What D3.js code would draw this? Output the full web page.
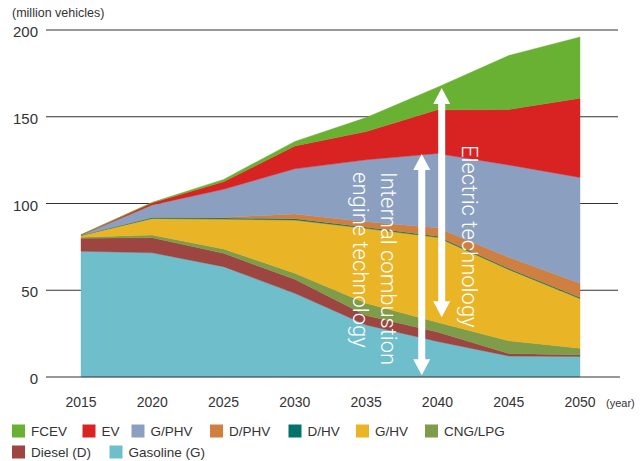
<!DOCTYPE html>
<html>
<head>
<meta charset="utf-8">
<script src="https://cdn.jsdelivr.net/npm/d3@7"></script>
<style>
  body { margin: 0; background: #fff; }
  svg { display: block; font-family: 'Liberation Sans', Arial, sans-serif; }
</style>
</head>
<body>
<div id="chart"></div>
<script>
// Vehicle stock by powertrain (million vehicles)
const years = [2015, 2020, 2025, 2030, 2035, 2040, 2045, 2050];
const gasoline = [72.5, 71.6, 63.6, 48.2, 30.0, 20.5, 12.1, 11.8];
const diesel   = [7.5, 8.7, 7.7, 8.1, 5.5, 5.5, 1.5, 0.9];
const cngLpg   = [0.6, 1.5, 2.5, 3.5, 7.0, 5.5, 7.3, 3.9];
const gHv      = [1.0, 9.6, 17.2, 30.7, 43.2, 49.0, 41.1, 28.6];
const dHv      = [0.1, 0.6, 0.6, 0.7, 0.6, 0.6, 0.6, 0.6];
const dPhv     = [0.0, 0.0, 0.4, 2.8, 3.2, 4.9, 6.4, 8.2];
const gPhv     = [0.1, 7.2, 16.2, 26.0, 35.7, 42.8, 53.2, 61.0];
const ev       = [0.1, 1.2, 4.4, 13.2, 16.3, 25.2, 32.0, 45.7];
const fcev     = [0.1, 0.3, 1.3, 2.6, 8.0, 13.0, 31.1, 35.3];

const yTicks = [0, 50, 100, 150, 200];

// stacking order, bottom to top
const series = [
  {key: 'Gasoline (G)', values: gasoline, color: '#6fbecb'},
  {key: 'Diesel (D)', values: diesel, color: '#9d4541'},
  {key: 'CNG/LPG', values: cngLpg, color: '#7f9c4b'},
  {key: 'G/HV', values: gHv, color: '#e9b425'},
  {key: 'D/HV', values: dHv, color: '#00736a'},
  {key: 'D/PHV', values: dPhv, color: '#cf7f3f'},
  {key: 'G/PHV', values: gPhv, color: '#8b9fc1'},
  {key: 'EV', values: ev, color: '#d92323'},
  {key: 'FCEV', values: fcev, color: '#69b133'}
];

// legend rows (top row, then second row)
const legendRows = [
  ['FCEV', 'EV', 'G/PHV', 'D/PHV', 'D/HV', 'G/HV', 'CNG/LPG'],
  ['Diesel (D)', 'Gasoline (G)']
];

// double-headed arrows: [year, top value, bottom value]
const arrowElectric = [2040.3, 166.5, 34.5];
const arrowIce = [2038.9, 128.5, 1];

const width = 640;
const height = 461;

const svg = d3.select('#chart').append('svg')
  .attr('width', width)
  .attr('height', height);

const x = d3.scaleLinear().domain([2015, 2050]).range([81, 580]);
const y = d3.scaleLinear().domain([0, 200]).range([377, 30]);

// table for the stack
const table = years.map(function(yr, i) {
  let row = {year: yr};
  series.forEach(function(s) { row[s.key] = s.values[i]; });
  return row;
});

const stacked = d3.stack().keys(series.map(s => s.key))(table);

// grid lines behind the areas
svg.append('g').selectAll('line')
  .data(yTicks.filter(t => t > 0))
  .join('line')
  .attr('x1', 46).attr('x2', 618)
  .attr('y1', d => y(d)).attr('y2', d => y(d))
  .attr('stroke', '#333')
  .attr('stroke-width', 1);

const area = d3.area()
  .x(d => x(d.data.year))
  .y0(d => y(d[0]))
  .y1(d => y(d[1]));

svg.append('g').selectAll('path')
  .data(stacked)
  .join('path')
  .attr('d', area)
  .attr('fill', (d, i) => series[i].color)
  .attr('stroke', (d, i) => series[i].color)
  .attr('stroke-width', 0.4);

// zero line on top
svg.append('line')
  .attr('x1', 46).attr('x2', 620)
  .attr('y1', y(0)).attr('y2', y(0))
  .attr('stroke', '#333')
  .attr('stroke-width', 1.2);

// y tick labels
svg.append('g').selectAll('text')
  .data(yTicks)
  .join('text')
  .attr('x', 38)
  .attr('y', d => y(d) + 7)
  .attr('text-anchor', 'end')
  .style('font-size', '15px')
  .attr('fill', '#333')
  .text(d => d);

svg.append('text')
  .attr('x', 12)
  .attr('y', 17)
  .style('font-size', '12.5px')
  .attr('fill', '#333')
  .text('(million vehicles)');

// x tick labels
svg.append('g').selectAll('text')
  .data(years)
  .join('text')
  .attr('x', d => x(d))
  .attr('y', 407)
  .attr('text-anchor', 'middle')
  .style('font-size', '14px')
  .attr('fill', '#333')
  .text(d => d);

svg.append('text')
  .attr('x', 606)
  .attr('y', 407)
  .style('font-size', '11px')
  .attr('fill', '#333')
  .text('(year)');

// white double arrows
function arrowPath(cx, yTop, yBottom) {
  let shaft = 3.5, head = 8.5, headLen = 16;
  return 'M' + cx + ',' + yTop +
    'L' + (cx + head) + ',' + (yTop + headLen) +
    'L' + (cx + shaft) + ',' + (yTop + headLen) +
    'L' + (cx + shaft) + ',' + (yBottom - headLen) +
    'L' + (cx + head) + ',' + (yBottom - headLen) +
    'L' + cx + ',' + yBottom +
    'L' + (cx - head) + ',' + (yBottom - headLen) +
    'L' + (cx - shaft) + ',' + (yBottom - headLen) +
    'L' + (cx - shaft) + ',' + (yTop + headLen) +
    'L' + (cx - head) + ',' + (yTop + headLen) + 'Z';
}

[arrowElectric, arrowIce].forEach(function(a) {
  svg.append('path')
    .attr('d', arrowPath(x(a[0]), y(a[1]), y(a[2])))
    .attr('fill', '#fff');
});

// rotated annotation labels
function rotatedText(tx, ty, lines) {
  let g = svg.append('g')
    .attr('transform', 'translate(' + tx + ',' + ty + ') rotate(90)');
  lines.forEach(function(line, i) {
    g.append('text')
      .attr('x', 0)
      .attr('y', i * 28)
      .style('font-size', '22px')
      .style('font-family', 'Roboto, "Liberation Sans", sans-serif')
      .style('font-weight', 300)
      .attr('fill', '#fff')
      .text(line);
  });
}

rotatedText(462, 145, ['Electric technology']);
rotatedText(381, 172, ['Internal combustion', 'engine technology']);

// legend
const colorOf = {};
series.forEach(s => { colorOf[s.key] = s.color; });
const legendX = [
  [12, 82.5, 131.5, 210, 288.5, 356, 425],
  [12, 109.5]
];
const legendY = [431, 452];

legendRows.forEach(function(row, r) {
  row.forEach(function(name, i) {
    let lx = legendX[r][i];
    svg.append('rect')
      .attr('x', lx).attr('y', legendY[r] - 6.5)
      .attr('width', 13).attr('height', 13)
      .attr('fill', colorOf[name]);
    svg.append('text')
      .attr('x', lx + 19)
      .attr('y', legendY[r] + 5)
      .style('font-size', '13.5px')
      .attr('fill', '#333')
      .text(name);
  });
});
</script>
</body>
</html>
